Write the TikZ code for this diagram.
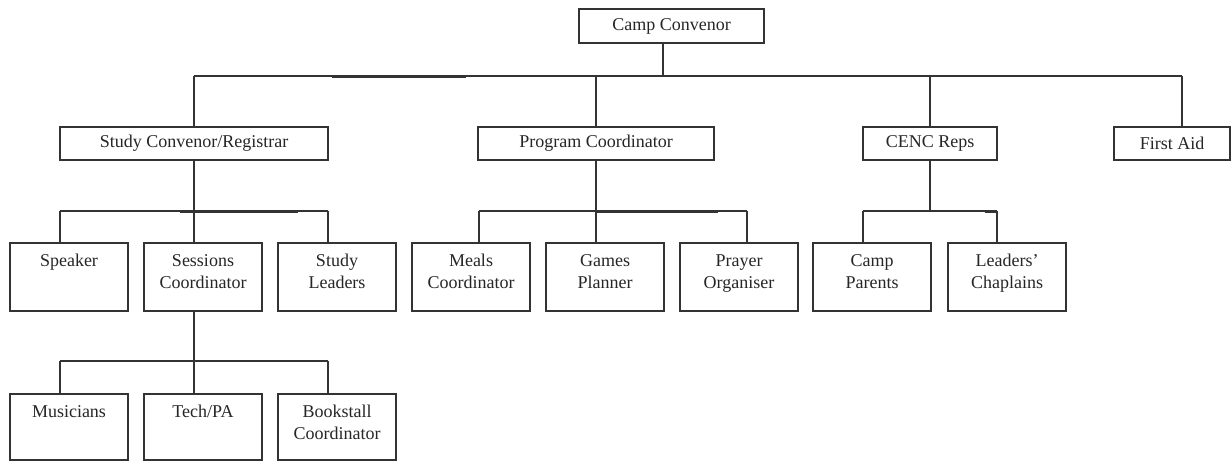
\documentclass[tikz,border=0pt]{standalone}
\usepackage{fontspec}
\setmainfont{Liberation Serif}
\usetikzlibrary{positioning,calc}

\begin{document}
\begin{tikzpicture}[x=0.5pt,y=-0.5pt,font=\fontsize{9}{11}\selectfont,
  line/.style={draw=black!80,line width=0.75pt},
  heavy/.style={line,line width=1.5pt},
  box/.style={line,fill=white,inner sep=0pt,outer sep=0pt,align=center,text=black!85},
  head/.style={box,minimum height=16.5pt},
  role/.style={box,anchor=north,text width=59pt,text height=11.5pt,text depth=22.5pt},
  lowrole/.style={role,text depth=21.5pt}]

  \useasboundingbox (0,0) rectangle (1231,461);

  % ==========================================
  % LEVEL 1: CAMP CONVENOR (TOP)
  % ==========================================
  \node[head,minimum width=92.5pt,minimum height=17pt] (camp) at (671.5,26) {Camp Convenor};

  \coordinate (top_l) at (194,76);
  \coordinate (top_r) at (1182,76);
  \coordinate (top_c) at (663,76);
  \draw[line] (top_l) -- (top_r);
  \draw[line] (top_c) -- (top_c |- camp.south);

  % ==========================================
  % LEVEL 2: CONVENOR / COORDINATORS
  % ==========================================
  \node[head,minimum width=134pt] (study) at (194,143.5) {Study Convenor/Registrar};
  \node[head,minimum width=118pt] (prog) at (596,143.5) {Program Coordinator};
  \node[head,minimum width=67pt] (cenc) at (930,143.5) {CENC Reps};
  \node[head,minimum width=58pt] (aid) at (1172,143.5) {First Aid};

  \foreach \n in {study,prog,cenc} \draw[line] (\n.north |- top_l) -- (\n.north);
  \draw[line] (top_r) -- (top_r |- aid.north);

  % ==========================================
  % LEVEL 3: TEAMS (MIDDLE)
  % ==========================================
  \node[role] (spk) at (69,243) {Speaker};
  \node[role] (ses) at (203,243) {Sessions\\Coordinator};
  \node[role] (stl) at (337,243) {Study\\Leaders};
  \node[role] (meal) at (471,243) {Meals\\Coordinator};
  \node[role] (game) at (605,243) {Games\\Planner};
  \node[role] (pray) at (739,243) {Prayer\\Organiser};
  \node[role] (cpar) at (872,243) {Camp\\Parents};
  \node[role] (chap) at (1007,243) {Leaders'\\Chaplains};

  % Bus coordinates below each parent
  \coordinate (s1) at (60,211);  \coordinate (s2) at (194,211); \coordinate (s3) at (328,211);
  \coordinate (p1) at (479,211); \coordinate (p2) at (596,211); \coordinate (p3) at (747,211);
  \coordinate (c1) at (863,211); \coordinate (c2) at (930,211); \coordinate (c3) at (997,211);

  \foreach \a/\b in {s1/s3,p1/p3,c1/c3} \draw[line] (\a) -- (\b);
  \foreach \n/\c in {study/s2,prog/p2,cenc/c2} \draw[line] (\n.south) -- (\c);
  \foreach \c/\n in {s1/spk,s2/ses,s3/stl,p1/meal,p2/game,p3/pray,c1/cpar,c3/chap}
    \draw[line] (\c) -- (\c |- \n.north);

  % ==========================================
  % LEVEL 4: SESSIONS HELPERS (BOTTOM)
  % ==========================================
  \node[lowrole] (mus) at (69,394) {Musicians};
  \node[lowrole] (tech) at (203,394) {Tech/PA};
  \node[lowrole] (book) at (337,394) {Bookstall\\Coordinator};

  \coordinate (m1) at (60,361); \coordinate (m2) at (194,361); \coordinate (m3) at (328,361);
  \draw[line] (m1) -- (m3);
  \draw[line] (ses.south -| m2) -- (m2);
  \foreach \c/\n in {m1/mus,m2/tech,m3/book} \draw[line] (\c) -- (\c |- \n.north);

  % Overlapping (heavier) bits of the connector lines
  \coordinate (h1a) at (332,76); \coordinate (h1b) at (466,76);
  \coordinate (h2a) at (180,211); \coordinate (h2b) at (298,211);
  \coordinate (h3a) at (596,211); \coordinate (h3b) at (718,211);
  \coordinate (h4a) at (985,211); \coordinate (h4b) at (997,211);
  \foreach \a/\b in {h1a/h1b,h2a/h2b,h3a/h3b,h4a/h4b} \draw[heavy] (\a) -- (\b);

\end{tikzpicture}
\end{document}
